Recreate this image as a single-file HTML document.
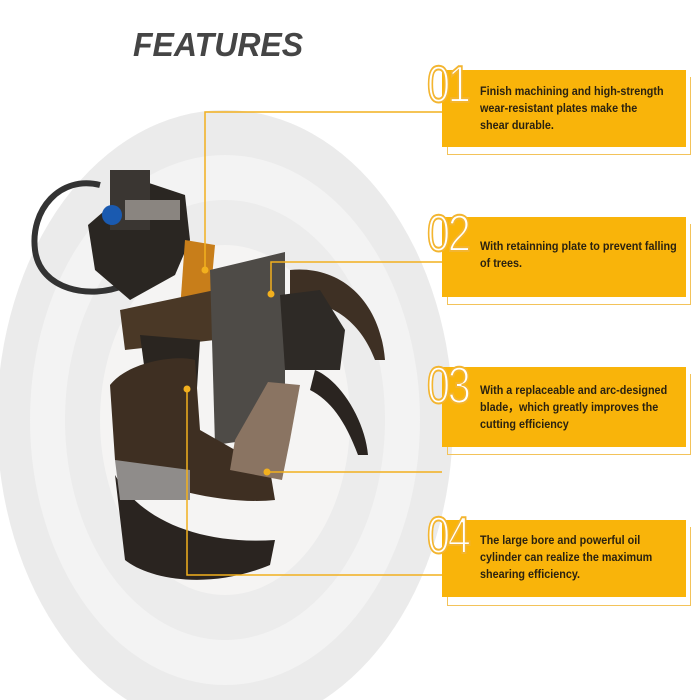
<!DOCTYPE html>
<html><head><meta charset="utf-8"><style>
body{margin:0;width:700px;height:700px;background:#fff;position:relative;overflow:hidden;font-family:"Liberation Sans",sans-serif}
.t{position:absolute;left:133px;top:26px;font:italic 900 33px "Liberation Sans",sans-serif;color:#454545;transform:scaleX(0.97);transform-origin:left}
.box{position:absolute;left:442px;width:244px;background:#f9b40a;}
.ol{position:absolute;left:447px;width:242px;border:1px solid #f3c35a;border-top:none;border-left:1px solid #f3c35a}
.num{position:absolute;left:427px;font:52px "Liberation Sans",sans-serif;color:#fff;-webkit-text-stroke:2px #f3b530;letter-spacing:-3px;transform:scaleX(0.8);transform-origin:left}
.tx{position:absolute;left:480px;width:235px;font:bold 12px/17px "Liberation Sans",sans-serif;color:#2b2210;transform:scaleX(0.9);transform-origin:left}
</style></head><body>
<svg width="700" height="700" style="position:absolute;left:0;top:0">
<ellipse cx="225" cy="420" rx="228" ry="310" fill="#ebebeb"/>
<ellipse cx="225" cy="420" rx="195" ry="265" fill="#f3f3f3"/>
<ellipse cx="225" cy="420" rx="160" ry="220" fill="#ececec"/>
<ellipse cx="225" cy="420" rx="125" ry="175" fill="#f5f4f3"/>
<path d="M100 185 C60 175 30 210 35 250 C40 290 90 300 125 285" fill="none" stroke="#333" stroke-width="6"/>
<polygon points="88,225 140,180 185,195 190,240 175,275 130,300 95,270" fill="#2a2622"/>
<rect x="110" y="170" width="40" height="60" fill="#3a3632"/>
<rect x="125" y="200" width="55" height="20" fill="#8a8580"/>
<circle cx="112" cy="215" r="10" fill="#1a5ab0"/>
<polygon points="185,240 215,245 210,300 180,310" fill="#c87e1a"/>
<polygon points="120,310 215,290 215,340 125,350" fill="#4a3826"/>
<polygon points="140,335 200,340 195,420 150,410" fill="#2a2520"/>
<polygon points="210,270 285,252 285,435 215,445" fill="#4e4b47"/>
<path d="M290 270 C340 265 380 300 385 360 L375 360 C360 320 330 300 290 300 Z" fill="#3e3024"/>
<polygon points="280,295 320,290 345,330 340,370 285,370" fill="#2e2a26"/>
<path d="M315 370 C340 380 365 420 368 455 L358 455 C345 420 330 400 310 390 Z" fill="#2a2420"/>
<path d="M110 385 C130 360 180 355 195 360 L200 430 L270 470 L275 500 C230 505 150 490 115 460 Z" fill="#3e2f22"/>
<polygon points="268,382 300,385 290,440 282,480 230,470 235,440" fill="#8a7462"/>
<path d="M115 475 C140 520 200 545 275 540 L270 565 C210 590 150 580 125 560 Z" fill="#2a2420"/>
<polygon points="115,460 190,470 190,500 120,500" fill="#8f8c8a"/>
<g stroke="#f2b01e" stroke-width="1.5" fill="none">
<polyline points="442,112 205,112 205,270"/>
<polyline points="442,262 271,262 271,294"/>
<polyline points="442,472 267,472"/>
<polyline points="442,575 187,575 187,389"/>
</g>
<g fill="#f2b01e"><circle cx="205" cy="270" r="3.5"/><circle cx="271" cy="294" r="3.5"/><circle cx="267" cy="472" r="3.5"/><circle cx="187" cy="389" r="3.5"/></g>
</svg>
<div class="t">FEATURES</div>

<div class="ol" style="top:77px;height:77px"></div>
<div class="box" style="top:70px;height:77px"></div>
<div class="num" style="top:55px">01</div>
<div class="tx" style="top:83px">Finish machining and high-strength<br>wear-resistant plates make the<br>shear durable.</div>

<div class="ol" style="top:224px;height:80px"></div>
<div class="box" style="top:217px;height:80px"></div>
<div class="num" style="top:204px">02</div>
<div class="tx" style="top:238px">With retainning plate to prevent falling<br>of trees.</div>

<div class="ol" style="top:374px;height:80px"></div>
<div class="box" style="top:367px;height:80px"></div>
<div class="num" style="top:356px">03</div>
<div class="tx" style="top:382px">With a replaceable and arc-designed<br>blade，which greatly improves the<br>cutting efficiency</div>

<div class="ol" style="top:527px;height:78px"></div>
<div class="box" style="top:520px;height:77px"></div>
<div class="num" style="top:506px">04</div>
<div class="tx" style="top:532px">The large bore and powerful oil<br>cylinder can realize the maximum<br>shearing efficiency.</div>
</body></html>
